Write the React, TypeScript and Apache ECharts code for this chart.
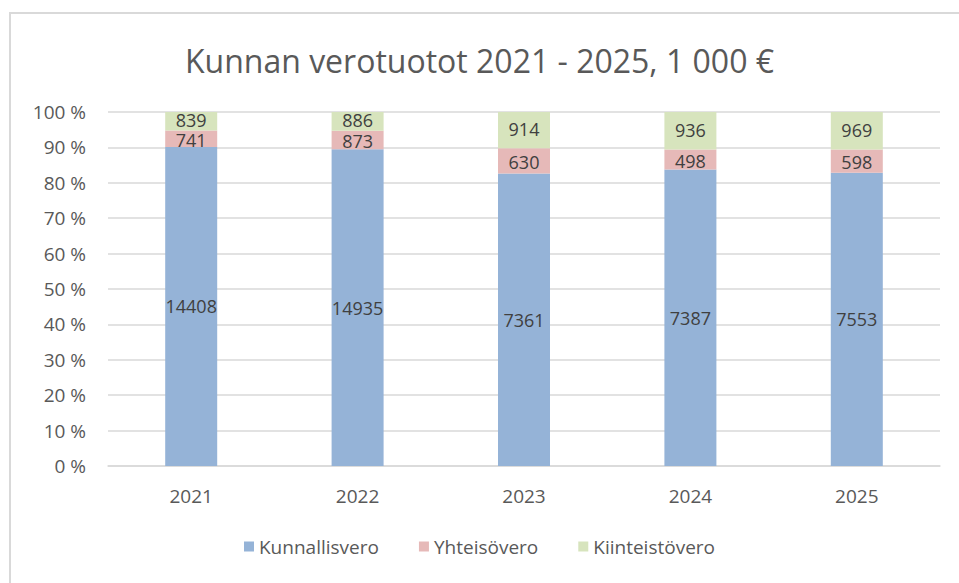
import React, { useEffect, useRef } from "react";
import * as echarts from "echarts";

const years = ["2021", "2022", "2023", "2024", "2025"];
const kunnallisvero = [14408, 14935, 7361, 7387, 7553];
const yhteisovero = [741, 873, 630, 498, 598];
const kiinteistovero = [839, 886, 914, 936, 969];
const seriesNames = ["Kunnallisvero", "Yhteisövero", "Kiinteistövero"];
const colors = ["#95B3D7", "#E6B9B8", "#D7E4BD"];
const labelOffsets = [[0, 0], [0, 1], [0, -1]];

const FONT = "'Open Sans', Lato, sans-serif";

export default function App() {
  const ref = useRef<HTMLDivElement>(null);
  useEffect(() => {
    if (!ref.current) return;
    const chart = echarts.init(ref.current, null, { renderer: "svg" });
    const raw = [kunnallisvero, yhteisovero, kiinteistovero];
    const totals = years.map((_, i) => raw.reduce((s, arr) => s + arr[i], 0));
    chart.setOption({
      animation: false,
      backgroundColor: "#ffffff",
      textStyle: { fontFamily: FONT },
      title: {
        text: "Kunnan verotuotot 2021 - 2025, 1 000 €",
        left: "center",
        top: 39,
        textStyle: { fontFamily: FONT, fontSize: 32, fontWeight: "normal", color: "#595959" },
      },
      graphic: [
        {
          type: "rect",
          shape: { x: 10, y: 13, width: 1000, height: 620 },
          style: { fill: "none", stroke: "#D9D9D9", lineWidth: 2 },
          silent: true,
        },
      ],
      grid: { left: 108, right: 19, top: 112, bottom: 117, containLabel: false },
      legend: {
        bottom: 22,
        left: "center",
        itemWidth: 10,
        itemHeight: 10,
        itemGap: 40,
        icon: "rect",
        textStyle: { fontFamily: FONT, fontSize: 19, color: "#595959" },
        data: seriesNames,
      },
      xAxis: {
        type: "category",
        data: years,
        axisLine: { lineStyle: { color: "#D9D9D9", width: 1.5 } },
        axisTick: { show: false },
        axisLabel: { color: "#595959", fontSize: 19, margin: 20, fontFamily: FONT },
      },
      yAxis: {
        type: "value",
        min: 0,
        max: 100,
        interval: 10,
        axisLine: { show: false },
        axisTick: { show: false },
        splitLine: { lineStyle: { color: "#D9D9D9", width: 1.5 } },
        axisLabel: {
          color: "#595959",
          fontSize: 19,
          margin: 22,
          fontFamily: FONT,
          formatter: (v: number) => `${v} %`,
        },
      },
      series: raw.map((arr, si) => ({
        name: seriesNames[si],
        type: "bar",
        stack: "total",
        barWidth: 52,
        itemStyle: { color: colors[si] },
        label: {
          show: true,
          position: "inside",
          offset: labelOffsets[si],
          color: "#404040",
          fontSize: 18,
          lineHeight: 16,
          fontFamily: FONT,
          formatter: (p: any) => String(arr[p.dataIndex]),
        },
        data: arr.map((v, i) => (v / totals[i]) * 100),
      })),
    });
    return () => chart.dispose();
  }, []);
  return (
    <div
      ref={ref}
      style={{ position: "fixed", left: 0, top: 0, width: 959, height: 583 }}
    />
  );
}
